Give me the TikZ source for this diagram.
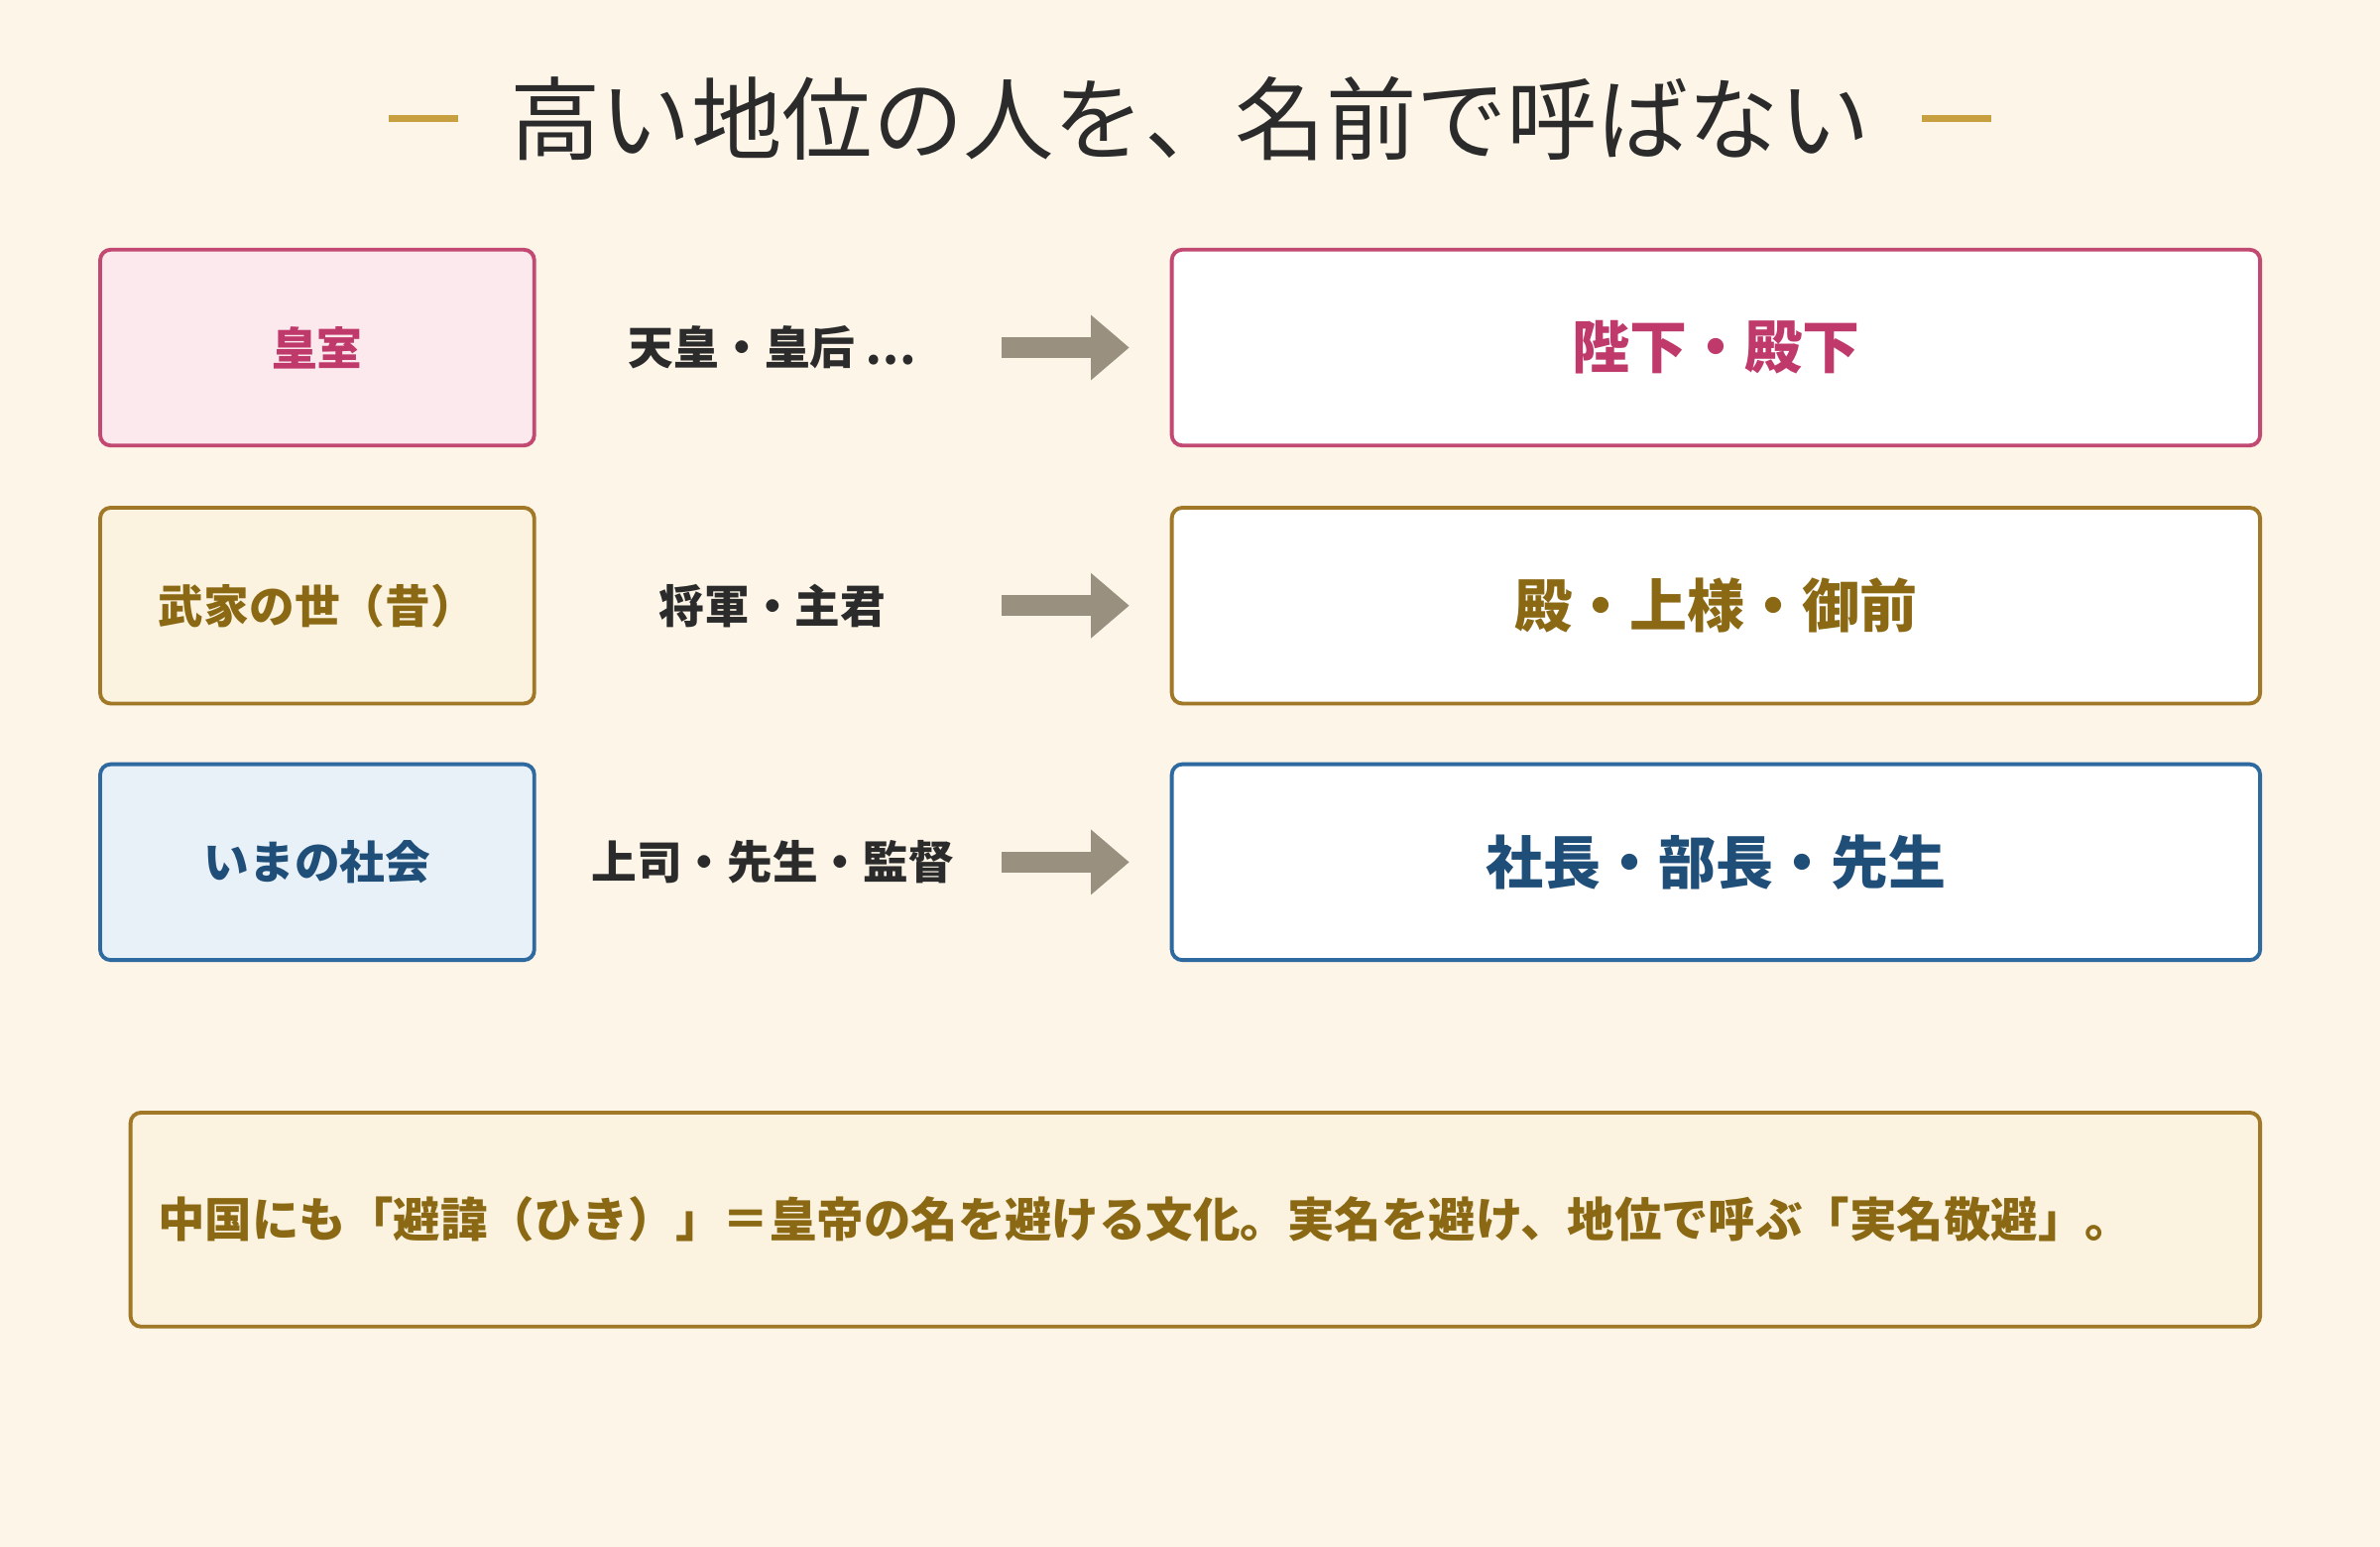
\documentclass[tikz,border=0pt]{standalone}
\usepackage{fontspec}
\newfontfamily\cjk{Noto Sans CJK JP}
\usetikzlibrary{positioning, arrows.meta}
\definecolor{bgcream}{HTML}{FCF5E8}
\definecolor{gold}{HTML}{C9A040}
\definecolor{pinkline}{HTML}{C24A72}
\definecolor{pinkfill}{HTML}{FBE9EE}
\definecolor{pinktext}{HTML}{C0396B}
\definecolor{brownline}{HTML}{A07828}
\definecolor{brownfill}{HTML}{FBF3E0}
\definecolor{browntext}{HTML}{8B6914}
\definecolor{blueline}{HTML}{2E6AA0}
\definecolor{bluefill}{HTML}{E9F1F8}
\definecolor{bluetext}{HTML}{1F4E79}
\definecolor{arrowgrey}{HTML}{9A9080}
\definecolor{ink}{HTML}{2B2B2B}
\begin{document}
\begin{tikzpicture}[
    x=0.015306cm, y=-0.015306cm,
    box/.style={
      draw, line width=1.1pt, rounded corners=3pt, inner sep=0pt
    },
    era/.style={
      box, minimum width=286*0.015306cm, minimum height=129*0.015306cm,
      font=\cjk\bfseries\fontsize{13}{15}\selectfont
    },
    title/.style={
      box, fill=white, minimum width=717*0.015306cm, minimum height=129*0.015306cm,
      font=\cjk\bfseries\fontsize{16.5}{19}\selectfont
    },
    word/.style={
      text=ink, font=\cjk\bfseries\fontsize{13}{15}\selectfont
    },
    fat/.style={
      arrowgrey, line width=6pt, -{Triangle[length=11pt, width=18pt]}
    },
  ]
    % background
    \fill [bgcream] (0,0) rectangle (1568,1019);

    % heading
    \node [text=ink, font=\cjk\fontsize{26}{30}\selectfont] (heading) at (784,78) {高い地位の人を、名前で呼ばない};
    \draw [gold, line width=2.2pt] (256,78) -- (302,78);
    \draw [gold, line width=2.2pt] (1266,78) -- (1312,78);

    % rows
    \foreach \y/\ln/\fl/\tx/\era/\plain/\polite [count=\i] in {
        229/pinkline/pinkfill/pinktext/皇室/天皇・皇后 …/陛下・殿下,
        399/brownline/brownfill/browntext/武家の世（昔）/将軍・主君/殿・上様・御前,
        568/blueline/bluefill/bluetext/いまの社会/上司・先生・監督/社長・部長・先生} {
      \node [era, draw=\ln, fill=\fl, text=\tx] (era_\i) at (209,\y) {\era};
      \node [word] (plain_\i) at (509,\y) {\plain};
      \node [title, draw=\ln, text=\tx] (polite_\i) at (1130.5,\y) {\polite};
      \coordinate (arrow_start_\i) at (660,\y);
      \coordinate (arrow_end_\i) at (744,\y);
      \draw [fat] (arrow_start_\i) -- (arrow_end_\i);
    }

    % note
    \node [box, draw=brownline, fill=brownfill, minimum width=1403*0.015306cm,
      minimum height=141*0.015306cm] (note_box) at (787.5,803.5) {};
    \node [anchor=west, text=browntext, font=\cjk\bfseries\fontsize{13.5}{16}\selectfont]
      (note) at (96,803) {中国にも「避諱（ひき）」＝皇帝の名を避ける文化。実名を避け、地位で呼ぶ「実名敬避」。};
  \end{tikzpicture}
\end{document}
